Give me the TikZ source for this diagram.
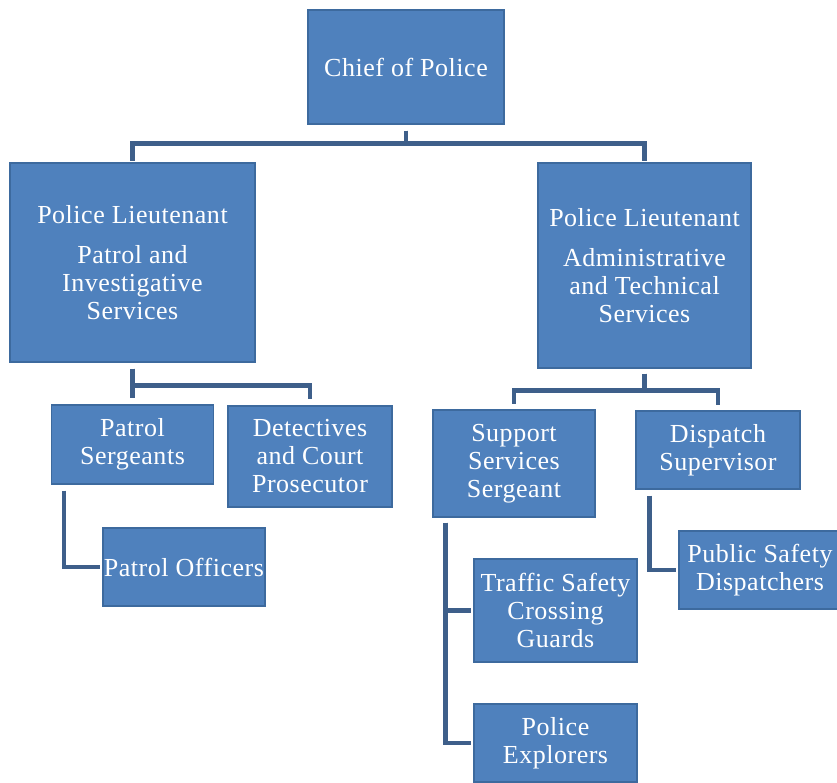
\documentclass[tikz,border=0pt]{standalone}
\usepackage{fontspec}
\setmainfont[LetterSpace=2]{Liberation Serif}
\definecolor{boxfill}{HTML}{4F81BD}
\definecolor{boxline}{HTML}{3D6A9E}
\definecolor{connline}{HTML}{3E5F8A}
\begin{document}
\begin{tikzpicture}[x=1pt,y=-1pt,
  unit/.style={draw=boxline, line width=1.2pt, fill=boxfill, text=white,
    inner sep=0pt, align=center, font=\fontsize{26}{28}\selectfont},
  conn/.style={draw=connline, line width=4.5pt, line cap=butt, line join=miter}]
\useasboundingbox (0,0) rectangle (837,782);
\fill[white] (0,0) rectangle (837,782);

% top level
\node[unit, minimum width=196pt, minimum height=114pt] (chief) at (406,67) {Chief of Police};

% lieutenants
\node[unit, minimum width=245pt, minimum height=199pt] (lt1) at (132.5,262.5)
  {Police Lieutenant\\[12pt] Patrol and\\ Investigative\\ Services};
\node[unit, minimum width=213pt, minimum height=205pt] (lt2) at (644.5,265.5)
  {Police Lieutenant\\[12pt] Administrative\\ and Technical\\ Services};

% patrol and investigative branch
\node[unit, minimum width=162pt, minimum height=79pt] (sgt) at (132.5,444.5) {Patrol\\ Sergeants};
\node[unit, minimum width=164pt, minimum height=101pt] (det) at (310,456.5) {Detectives\\ and Court\\ Prosecutor};
\node[unit, minimum width=162pt, minimum height=78pt] (off) at (184,567) {Patrol Officers};

% administrative and technical branch
\node[unit, minimum width=162pt, minimum height=107pt] (sup) at (514,463.5) {Support\\ Services\\ Sergeant};
\node[unit, minimum width=164pt, minimum height=78pt] (disp) at (718,450) {Dispatch\\ Supervisor};
\node[unit, minimum width=162pt, minimum height=78pt] (psd) at (760,570) {Public Safety\\ Dispatchers};
\node[unit, minimum width=163pt, minimum height=103pt] (tsg) at (555.5,610.5) {Traffic Safety\\ Crossing\\ Guards};
\node[unit, minimum width=163pt, minimum height=78pt] (exp) at (555.5,743) {Police\\ Explorers};

% connectors
\draw[conn, shorten <=6pt, shorten >=1pt] (chief.south) -- ++(0,19) -| (lt1.north);
\draw[conn, shorten <=6pt, shorten >=1pt] (chief.south) -- ++(0,19) -| (lt2.north);

\draw[conn, shorten <=6pt, shorten >=6pt] (lt1.south) -- ++(0,23) -| (sgt.north);
\draw[conn, shorten <=6pt, shorten >=6pt] (lt1.south) -- ++(0,23) -| (det.north);

\draw[conn, shorten <=5pt, shorten >=5pt] (lt2.south) -- ++(0,22) -| (sup.north);
\draw[conn, shorten <=5pt, shorten >=5pt] (lt2.south) -- ++(0,22) -| (disp.north);

\draw[conn, shorten <=6pt, shorten >=2pt] ([xshift=13pt]sgt.south west) |- (off.west);
\draw[conn, shorten <=6pt, shorten >=2pt] ([xshift=14pt]disp.south west) |- (psd.west);
\draw[conn, shorten <=5pt, shorten >=2pt] ([xshift=13pt]sup.south west) |- (tsg.west);
\draw[conn, shorten <=5pt, shorten >=2pt] ([xshift=13pt]sup.south west) |- (exp.west);
\end{tikzpicture}
\end{document}
